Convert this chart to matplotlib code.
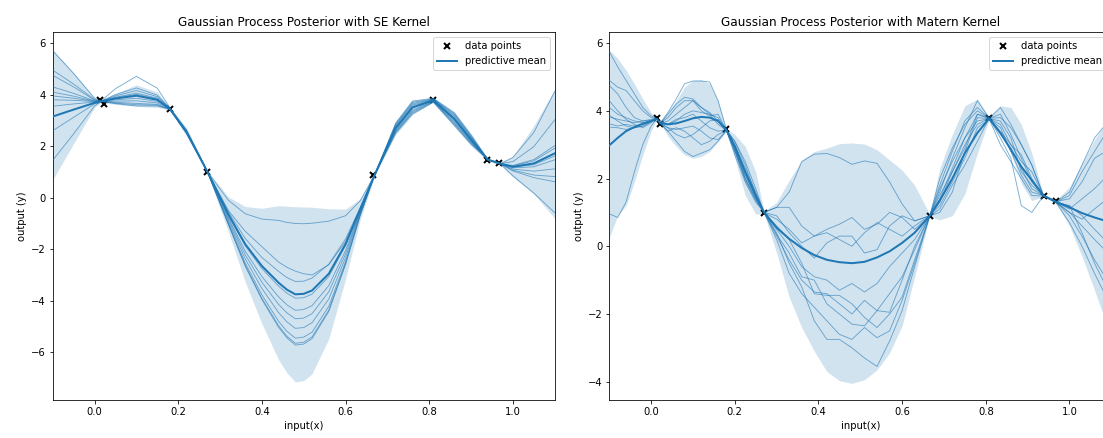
import matplotlib
matplotlib.use("Agg")
import matplotlib.pyplot as plt

# ---------------- data points (shared by both panels) ----------------
X_DATA = [0.013, 0.022, 0.18, 0.27, 0.666, 0.808, 0.938, 0.967]
Y_DATA = [3.78, 3.62, 3.45, 0.99, 0.90, 3.78, 1.48, 1.33]

# ---------------- SE kernel panel ----------------
SE_X = [-0.1, -0.05, 0.0, 0.015, 0.05, 0.1, 0.15, 0.18, 0.22, 0.27,
        0.32, 0.36, 0.4, 0.44, 0.46, 0.48, 0.5, 0.52, 0.56, 0.6, 0.635, 0.67,
        0.72, 0.76, 0.81, 0.86, 0.9, 0.94, 0.97, 1.0, 1.05, 1.1]
SE_MEAN = [3.15, 3.42, 3.68, 3.74, 3.85, 3.96, 3.8, 3.45, 2.55, 1.0,
           -0.65, -1.8, -2.65, -3.3, -3.57, -3.75, -3.73, -3.6, -2.95, -1.8, -0.45, 0.9,
           2.7, 3.5, 3.78, 3.05, 2.25, 1.48, 1.32, 1.2, 1.33, 1.72]
SE_UPPER = [5.75, 4.85, 3.88, 3.78, 4.05, 4.38, 4.1, 3.5, 2.72, 1.05,
            0.03, -0.34, -0.41, -0.31, -0.33, -0.35, -0.36, -0.37, -0.43, -0.44, -0.04, 0.95,
            2.95, 3.78, 3.83, 3.32, 2.5, 1.53, 1.37, 1.6, 2.8, 4.2]
SE_LOWER = [0.7, 2.1, 3.5, 3.7, 3.62, 3.55, 3.5, 3.4, 2.38, 0.95,
            -1.33, -3.26, -4.89, -6.29, -6.8, -7.15, -7.1, -6.83, -5.47, -3.16, -0.86, 0.85,
            2.45, 3.22, 3.73, 2.78, 2.0, 1.43, 1.27, 0.8, 0.15, -0.8]
SE_S1 = [5.7, 4.82, 3.86, 3.74, 4.0, 4.26, 3.98, 3.47, 2.6, 1.0,
         -0.1, -0.62, -0.83, -0.88, -0.96, -1.0, -1.01, -0.99, -0.91, -0.7, -0.12, 0.9,
         2.82, 3.65, 3.83, 3.2, 2.35, 1.48, 1.32, 1.07, 0.88, 0.82]
SE_S2 = [4.95, 4.41, 3.81, 3.75, 4.23, 4.71, 4.25, 3.49, 2.62, 1.0,
         -0.55, -1.58, -2.32, -2.86, -3.1, -3.25, -3.24, -3.12, -2.58, -1.6, -0.39, 0.9,
         2.62, 3.4, 3.75, 2.95, 2.18, 1.48, 1.32, 1.25, 1.48, 2.02]
SE_S3 = [4.75, 4.3, 3.79, 3.74, 3.7, 3.66, 3.62, 3.44, 2.5, 1.0,
         -0.68, -1.86, -2.75, -3.43, -3.71, -3.9, -3.88, -3.74, -3.06, -1.86, -0.47, 0.9,
         2.86, 3.7, 3.84, 3.25, 2.39, 1.48, 1.32, 0.85, 0.18, -0.58]
SE_S4 = [4.3, 4.05, 3.76, 3.74, 3.95, 4.16, 3.92, 3.46, 2.52, 1.0,
         -0.77, -2.07, -3.06, -3.85, -4.16, -4.37, -4.34, -4.19, -3.41, -2.05, -0.52, 0.9,
         2.54, 3.3, 3.72, 2.85, 2.11, 1.48, 1.32, 1.4, 1.98, 3.02]
SE_S5 = [4.1, 3.94, 3.75, 3.74, 3.8, 3.86, 3.74, 3.45, 2.56, 1.0,
         -0.84, -2.21, -3.28, -4.14, -4.47, -4.7, -4.67, -4.5, -3.65, -2.18, -0.56, 0.9,
         2.78, 3.6, 3.81, 3.15, 2.32, 1.48, 1.32, 1.19, 1.28, 1.62]
SE_S6 = [3.95, 3.86, 3.74, 3.74, 3.67, 3.61, 3.59, 3.43, 2.5, 1.0,
         -0.91, -2.37, -3.52, -4.46, -4.82, -5.07, -5.04, -4.85, -3.93, -2.33, -0.61, 0.9,
         2.58, 3.35, 3.74, 2.9, 2.15, 1.48, 1.32, 1.11, 1.03, 1.12]
SE_S7 = [3.8, 3.78, 3.73, 3.74, 3.88, 4.01, 3.83, 3.45, 2.56, 1.0,
         -0.99, -2.53, -3.77, -4.8, -5.19, -5.45, -5.41, -5.22, -4.21, -2.48, -0.65, 0.9,
         2.9, 3.75, 3.86, 3.3, 2.43, 1.48, 1.32, 1.56, 2.53, 4.12]
SE_S8 = [1.45, 2.48, 3.56, 3.72, 3.75, 3.76, 3.68, 3.44, 2.55, 1.0,
         -1.03, -2.62, -3.9, -4.97, -5.38, -5.65, -5.61, -5.4, -4.36, -2.56, -0.68, 0.9,
         2.7, 3.5, 3.78, 3.05, 2.25, 1.48, 1.32, 1.16, 1.2, 1.47]
SE_S9 = [3.55, 3.64, 3.71, 3.74, 3.65, 3.56, 3.56, 3.43, 2.5, 1.0,
         -1.04, -2.65, -3.95, -5.03, -5.44, -5.72, -5.68, -5.47, -4.41, -2.59, -0.69, 0.9,
         2.5, 3.25, 3.7, 2.8, 2.08, 1.48, 1.32, 1.04, 0.78, 0.62]
SE_S10 = [2.6, 3.12, 3.64, 3.74, 3.9, 4.06, 3.86, 3.45, 2.58, 1.0,
          -0.5, -1.3, -1.9, -2.5, -2.7, -2.85, -2.95, -3.0, -2.6, -1.7, -0.4, 0.9,
          2.74, 3.55, 3.8, 3.1, 2.29, 1.48, 1.32, 1.23, 1.43, 1.92]
SE_SAMPLES = [SE_S1, SE_S2, SE_S3, SE_S4, SE_S5, SE_S6, SE_S7, SE_S8, SE_S9, SE_S10]

# ---------------- Matern kernel panel ----------------
MAT_X = [-0.1, -0.08, -0.06, -0.04, -0.02, 0.0, 0.013, 0.022,
         0.04, 0.06, 0.08, 0.1, 0.12, 0.14, 0.16, 0.18,
         0.2, 0.225, 0.25, 0.27,
         0.3, 0.33, 0.36, 0.39, 0.42, 0.45, 0.48, 0.51, 0.54, 0.57, 0.6, 0.63, 0.666,
         0.69, 0.72, 0.75, 0.78, 0.808,
         0.835, 0.86, 0.885, 0.91, 0.938,
         0.967, 1.0, 1.03, 1.06, 1.1]
MAT_MEAN = [2.98, 3.2, 3.4, 3.52, 3.62, 3.7, 3.76, 3.65,
            3.6, 3.63, 3.7, 3.78, 3.82, 3.8, 3.7, 3.43,
            2.95, 2.2, 1.5, 1.0,
            0.55, 0.22, -0.05, -0.26, -0.4, -0.47, -0.5, -0.46, -0.33, -0.15, 0.1, 0.4, 0.9,
            1.35, 2.0, 2.75, 3.35, 3.77,
            3.35, 2.85, 2.35, 1.95, 1.5,
            1.32, 1.15, 0.98, 0.85, 0.7]
MAT_UPPER = [5.8, 5.55, 5.2, 4.8, 4.35, 3.95, 3.8, 3.68,
             3.95, 4.3, 4.7, 4.9, 4.92, 4.8, 4.3, 3.47,
             3.3, 2.95, 2.2, 1.03,
             1.3, 1.95, 2.54, 2.8, 2.9, 3.03, 3.05, 3.02, 2.85, 2.55, 2.25, 1.8, 0.95,
             2.3, 3.3, 4.15, 4.35, 3.82,
             4.15, 4.1, 3.6, 2.75, 1.52,
             1.35, 1.75, 2.45, 3.15, 3.9]
MAT_LOWER = [0.25, 0.9, 1.2, 1.9, 2.7, 3.4, 3.74, 3.62,
             3.25, 2.95, 2.7, 2.6, 2.65, 2.8, 3.1, 3.39,
             2.6, 1.5, 0.95, 0.97,
             -0.2, -1.5, -2.4, -3.1, -3.7, -3.97, -4.05, -3.94, -3.65, -3.15, -2.35, -0.9, 0.87,
             0.78, 0.9, 1.55, 2.75, 3.74,
             3.45, 2.75, 1.85, 1.35, 1.46,
             1.28, 0.6, -0.3, -1.3, -2.7]
MAT_A = [5.75, 5.3, 4.9, 4.5, 4.1, 3.85, 3.77, 3.64,
         3.95, 4.35, 4.8, 4.88, 4.88, 4.85, 4.3, 3.45,
         3.0, 2.3, 1.6, 1.0,
         1.15, 1.6, 2.5, 2.72, 2.74, 2.62, 2.42, 2.52, 2.45, 1.9, 1.25, 0.75, 0.9,
         1.4, 2.3, 3.2, 3.9, 3.78,
         3.4, 3.0, 2.5, 2.2, 1.5,
         1.3, 1.5, 2.2, 2.8, 3.6]
MAT_B = [4.9, 4.7, 4.6, 4.3, 4.0, 3.8, 3.77, 3.63,
         3.5, 3.3, 3.2, 3.3, 3.5, 3.7, 3.75, 3.43,
         2.9, 2.0, 1.4, 1.0,
         1.15, 1.15, 0.6, 0.3, 0.5, 0.65, 0.85, 0.5, 0.65, 1.0, 0.85, 0.5, 0.9,
         1.6, 2.6, 3.5, 4.3, 3.78,
         4.1, 3.6, 3.0, 2.4, 1.49,
         1.31, 1.0, 0.8, 1.1, 1.5]
MAT_C = [4.75, 4.5, 4.1, 3.8, 3.7, 3.75, 3.78, 3.62,
         3.7, 3.9, 4.1, 4.3, 4.0, 3.85, 3.9, 3.42,
         3.1, 2.4, 1.55, 0.99,
         0.8, 0.5, 0.1, 0.3, 0.4, 0.2, 0.0, 0.4, 0.7, 0.5, 0.3, 0.6, 0.91,
         1.2, 1.9, 2.6, 3.5, 3.76,
         3.0, 2.5, 2.0, 1.5, 1.48,
         1.32, 1.4, 1.9, 2.6, 2.9]
MAT_D = [4.3, 4.0, 3.75, 3.6, 3.5, 3.65, 3.77, 3.64,
         3.8, 4.1, 4.3, 4.3, 4.1, 3.9, 3.8, 3.44,
         2.8, 2.1, 1.5, 1.0,
         0.5, 0.0, -0.6, -0.9, -1.0, -1.3, -1.1, -1.35, -1.1, -0.6, -0.2, 0.2, 0.9,
         1.7, 2.5, 3.2, 3.7, 3.77,
         3.7, 3.2, 2.2, 1.8, 1.5,
         1.3, 1.0, 0.6, 0.2, -0.3]
MAT_E = [4.1, 3.9, 3.8, 3.7, 3.65, 3.7, 3.78, 3.63,
         3.4, 3.1, 2.8, 2.65, 2.75, 2.85, 3.1, 3.42,
         2.7, 1.9, 1.3, 1.0,
         0.3, -0.4, -1.0, -1.35, -1.4, -1.7, -2.0, -1.6, -1.9, -1.95, -1.0, 0.0, 0.9,
         1.3, 2.2, 3.0, 3.6, 3.78,
         3.2, 2.6, 1.2, 1.0, 1.49,
         1.3, 1.2, 0.9, 0.5, 0.0]
MAT_F = [3.87, 3.7, 3.55, 3.5, 3.55, 3.68, 3.77, 3.62,
         3.9, 4.2, 4.4, 4.35, 4.1, 3.95, 3.7, 3.43,
         3.0, 2.2, 1.5, 1.0,
         0.6, 0.2, -0.5, -1.4, -1.45, -1.45, -1.7, -2.1, -2.4, -2.0, -1.5, -0.4, 0.9,
         1.0, 1.6, 2.8, 3.8, 3.77,
         3.6, 3.0, 2.7, 2.0, 1.48,
         1.3, 1.6, 2.4, 3.2, 3.8]
MAT_G = [3.82, 3.75, 3.7, 3.65, 3.7, 3.72, 3.76, 3.63,
         3.6, 3.7, 3.9, 4.0, 3.95, 3.9, 3.6, 3.42,
         2.9, 2.1, 1.45, 1.0,
         0.2, -0.8, -1.4, -1.8, -2.2, -2.6, -2.75, -2.4, -2.7, -2.5, -1.6, -0.5, 0.9,
         2.0, 2.9, 3.6, 4.0, 3.78,
         3.8, 3.5, 3.0, 2.4, 1.5,
         1.32, 0.9, 0.3, -0.4, -1.2]
MAT_H = [3.62, 3.55, 3.6, 3.55, 3.6, 3.7, 3.77, 3.64,
         3.5, 3.45, 3.5, 3.55, 3.4, 3.2, 3.15, 3.43,
         2.8, 2.0, 1.4, 1.0,
         0.4, -0.5, -1.2, -2.2, -2.75, -2.75, -3.0, -3.3, -3.55, -2.8, -1.9, -0.6, 0.9,
         1.5, 2.2, 2.9, 3.9, 3.77,
         3.3, 2.9, 2.3, 1.7, 1.49,
         1.31, 0.7, 0.0, -0.8, -1.8]
MAT_I = [3.52, 3.5, 3.45, 3.5, 3.55, 3.68, 3.78, 3.62,
         3.4, 3.5, 3.4, 3.2, 3.0, 3.1, 3.3, 3.42,
         2.85, 1.95, 1.35, 1.0,
         0.35, -0.2, -0.9, -1.0, -1.7, -2.0, -2.3, -2.35, -1.9, -1.4, -0.9, -0.1, 0.9,
         1.1, 1.8, 2.4, 3.1, 3.78,
         3.5, 2.8, 2.1, 1.6, 1.5,
         1.3, 1.1, 1.4, 1.7, 2.2]
MAT_J = [0.96, 0.85, 1.3, 2.2, 3.0, 3.55, 3.77, 3.63,
         3.6, 3.75, 3.8, 3.9, 3.7, 3.5, 3.4, 3.43,
         3.1, 2.5, 1.7, 1.0,
         0.9, 0.4, 0.0, -0.35, 0.1, 0.3, 0.3, -0.2, -0.1, 0.6, 0.9, 0.75, 0.9,
         1.8, 2.8, 3.7, 4.1, 3.78,
         3.9, 3.3, 2.6, 1.9, 1.49,
         1.3, 1.2, 0.4, -0.5, -1.5]
MAT_SAMPLES = [MAT_A, MAT_B, MAT_C, MAT_D, MAT_E, MAT_F, MAT_G, MAT_H, MAT_I, MAT_J]

TITLES = ["Gaussian Process Posterior with SE Kernel",
          "Gaussian Process Posterior with Matern Kernel"]
XLIM = (-0.1, 1.1)
YLIMS = [(-7.85, 6.42), (-4.54, 6.32)]
XTICKS = [0.0, 0.2, 0.4, 0.6, 0.8, 1.0]
YTICKS = [[-6, -4, -2, 0, 2, 4, 6], [-4, -2, 0, 2, 4, 6]]

# ---------------- figure ----------------
W, H, DPI = 1103, 438, 72
fig = plt.figure(figsize=(W / DPI, H / DPI), dpi=DPI)
ax1 = fig.add_axes([0.0478, 0.0868, 0.4551, 0.8395])
ax2 = fig.add_axes([0.5524, 0.0868, 0.4551, 0.8395])

panels = [
    (ax1, SE_X, SE_MEAN, SE_UPPER, SE_LOWER, SE_SAMPLES),
    (ax2, MAT_X, MAT_MEAN, MAT_UPPER, MAT_LOWER, MAT_SAMPLES),
]

for i, (ax, gx, mean, up, lo, samples) in enumerate(panels):
    ax.plot(X_DATA, Y_DATA, "kx", mew=2, ms=5.5, label="data points", zorder=2)
    ax.fill_between(gx, lo, up, color="C0", alpha=0.2, lw=0, zorder=1)
    for s in samples:
        ax.plot(gx, s, color="C0", lw=0.9, alpha=0.6, zorder=3)
    ax.plot(gx, mean, color="C0", lw=2, label="predictive mean", zorder=4)
    ax.set_xlim(*XLIM)
    ax.set_ylim(*YLIMS[i])
    ax.set_xticks(XTICKS)
    ax.set_yticks(YTICKS[i])
    ax.set_title(TITLES[i], fontsize=12)
    ax.set_xlabel("input(x)")
    ax.set_ylabel("output (y)")
    ax.legend(loc="upper right")

fig.savefig("out.png", dpi=DPI)
